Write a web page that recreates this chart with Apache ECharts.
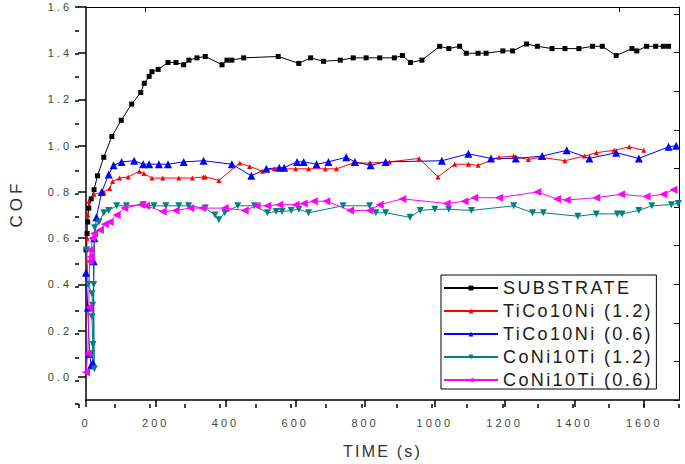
<!DOCTYPE html>
<html>
<head>
<meta charset="utf-8">
<script src="https://cdn.jsdelivr.net/npm/echarts@6/dist/echarts.min.js"></script>
<style>
  html, body { margin: 0; padding: 0; background: #fff; }
  #chart { width: 685px; height: 464px; }
  #chart text[style*="11px"] { letter-spacing: 3px; }
  #chart text[style*="18px"] { letter-spacing: 2.4px; }
  #chart text[style*="16px"] { letter-spacing: 2.2px; }
  #chart text[style*="17px"] { letter-spacing: 4px; }
</style>
</head>
<body>
<div id="chart"></div>
<script>
// ---- data (time in s, COF) ----
const seriesNames = ['SUBSTRATE', 'TiCo10Ni (1.2)', 'TiCo10Ni (0.6)', 'CoNi10Ti (1.2)', 'CoNi10Ti (0.6)'];

const substrate = [[0,0.55],[3,0.62],[5,0.67],[8,0.73],[15,0.77],[23,0.81],[33,0.87],[51,0.95],[74,1.04],[101,1.11],[131,1.18],[157,1.23],[167,1.27],[181,1.30],[189,1.32],[207,1.33],[235,1.36],[258,1.36],[280,1.35],[295,1.37],[318,1.38],[342,1.386],[390,1.35],[404,1.37],[418,1.37],[452,1.38],[551,1.386],[610,1.356],[644,1.38],[681,1.365],[729,1.37],[766,1.38],[803,1.38],[842,1.38],[884,1.38],[907,1.39],[930,1.36],[963,1.37],[1014,1.43],[1040,1.42],[1071,1.43],[1090,1.40],[1124,1.40],[1147,1.40],[1195,1.41],[1223,1.41],[1263,1.44],[1294,1.43],[1336,1.42],[1373,1.42],[1413,1.42],[1452,1.43],[1480,1.43],[1520,1.39],[1565,1.42],[1579,1.41],[1607,1.43],[1633,1.43],[1655,1.43],[1670,1.43]];

const tico12 = [[0,0.45],[3,0.6],[5,0.7],[8,0.76],[23,0.79],[51,0.80],[68,0.815],[76,0.845],[96,0.86],[121,0.865],[153,0.89],[166,0.88],[189,0.86],[220,0.86],[266,0.86],[305,0.86],[337,0.865],[342,0.865],[381,0.85],[441,0.925],[469,0.91],[506,0.89],[540,0.90],[601,0.90],[638,0.90],[686,0.90],[718,0.90],[766,0.925],[813,0.925],[870,0.93],[955,0.945],[1009,0.865],[1057,0.92],[1096,0.92],[1124,0.915],[1184,0.95],[1226,0.955],[1268,0.94],[1302,0.95],[1373,0.935],[1429,0.955],[1463,0.97],[1514,0.98],[1557,0.995],[1599,0.98]];

const tico06 = [[0,0.45],[5,0.3],[10,0.1],[15,0.05],[20,0.06],[22,0.5],[24,0.6],[30,0.69],[45,0.80],[65,0.875],[79,0.915],[102,0.93],[138,0.935],[164,0.92],[181,0.92],[209,0.92],[235,0.92],[280,0.93],[337,0.935],[418,0.92],[474,0.87],[517,0.90],[554,0.905],[568,0.905],[605,0.93],[624,0.93],[661,0.92],[695,0.93],[746,0.95],[771,0.93],[816,0.915],[859,0.93],[1020,0.935],[1096,0.965],[1161,0.945],[1232,0.945],[1308,0.955],[1378,0.98],[1443,0.945],[1520,0.97],[1585,0.945],[1670,0.995],[1692,1.0]];

const coni12 = [[2,0.55],[6,0.4],[17,0.36],[19,0.31],[17,0.26],[20,0.14],[17,0.10],[24,0.035],[22,0.4],[25,0.645],[37,0.67],[51,0.71],[65,0.72],[88,0.74],[116,0.74],[164,0.745],[195,0.74],[229,0.74],[266,0.74],[294,0.74],[342,0.73],[370,0.70],[381,0.68],[398,0.71],[435,0.74],[483,0.74],[520,0.71],[545,0.715],[562,0.715],[588,0.72],[610,0.725],[638,0.71],[737,0.74],[813,0.74],[831,0.71],[859,0.71],[929,0.69],[958,0.72],[1000,0.725],[1040,0.725],[1105,0.72],[1226,0.74],[1280,0.71],[1311,0.71],[1410,0.695],[1463,0.705],[1523,0.705],[1537,0.705],[1585,0.72],[1622,0.74],[1678,0.745],[1698,0.75]];

const coni06 = [[0,0.02],[5,0.1],[8,0.3],[10,0.5],[12,0.55],[14,0.52],[18,0.6],[23,0.62],[40,0.635],[54,0.66],[68,0.67],[88,0.70],[110,0.73],[158,0.745],[172,0.74],[220,0.715],[257,0.72],[299,0.73],[333,0.73],[398,0.73],[455,0.72],[489,0.74],[520,0.74],[554,0.745],[601,0.745],[624,0.75],[653,0.76],[689,0.76],[757,0.72],[813,0.72],[842,0.745],[907,0.77],[1034,0.75],[1085,0.76],[1113,0.775],[1184,0.775],[1294,0.80],[1350,0.77],[1378,0.765],[1463,0.775],[1534,0.79],[1607,0.78],[1655,0.79],[1684,0.81]];

const xTicks = [0, 200, 400, 600, 800, 1000, 1200, 1400, 1600];
const yTicks = [0.0, 0.2, 0.4, 0.6, 0.8, 1.0, 1.2, 1.4, 1.6];

const FONT = 'Liberation Sans, Arial, sans-serif';
const gridRect = { left: 79, right: 6, top: 7, bottom: 60 };

const chart = echarts.init(document.getElementById('chart'), null, { renderer: 'svg' });

function lineSeries(name, data, color, symbol, size, rotate) {
  return {
    name: name, type: 'line', data: data,
    xAxisIndex: 0, yAxisIndex: 0,
    symbol: symbol, symbolSize: size, symbolRotate: rotate || 0,
    showSymbol: true,
    lineStyle: { color: color, width: 1 },
    itemStyle: { color: color },
    emphasis: { disabled: true }
  };
}

chart.setOption({
  animation: false,
  backgroundColor: '#fff',
  grid: [
    Object.assign({}, gridRect),
    Object.assign({}, gridRect)
  ],
  legend: {
    orient: 'vertical',
    left: 441, top: 275,
    padding: [4, 37, 0, 2],
    itemWidth: 54, itemHeight: 6, itemGap: 5.0,
    borderColor: '#000', borderWidth: 1,
    backgroundColor: '#fff',
    textStyle: { fontFamily: FONT, fontSize: 18, color: '#1a1a1a' },
    data: seriesNames
  },
  xAxis: [
    {
      type: 'value', gridIndex: 0, min: 0, max: 1700, interval: 100,
      position: 'bottom',
      name: 'TIME (s)', nameLocation: 'middle', nameGap: 43,
      nameTextStyle: { fontFamily: FONT, fontSize: 16, color: '#333' },
      axisLine: { show: true, onZero: false, lineStyle: { color: '#000', width: 1.5 } },
      axisTick: { show: true, inside: false, length: 7, customValues: xTicks, lineStyle: { color: '#000', width: 1.5 } },
      axisLabel: { show: true, customValues: xTicks, margin: 17, fontFamily: FONT, fontSize: 11, color: '#444',
                   formatter: function (v) { return String(v); } },
      splitLine: { show: false }
    },
    {
      type: 'value', gridIndex: 0, min: 0, max: 1, position: 'top',
      axisLine: { show: true, onZero: false, lineStyle: { color: '#000', width: 1 } },
      axisTick: { show: true, inside: true, length: 5, customValues: [0.1, 0.9], lineStyle: { color: '#000' } },
      axisLabel: { show: false },
      splitLine: { show: false }
    },
    {
      type: 'value', gridIndex: 1, min: 0, max: 1700, interval: 100, position: 'bottom',
      axisLine: { show: false, onZero: false },
      axisTick: { show: true, inside: false, length: 4, lineStyle: { color: '#000', width: 1.5 } },
      axisLabel: { show: false },
      splitLine: { show: false }
    }
  ],
  yAxis: [
    {
      type: 'value', gridIndex: 0, min: -0.1, max: 1.6, interval: 0.1,
      position: 'left',
      name: 'COF', nameLocation: 'middle', nameGap: 61, nameRotate: 90,
      nameTextStyle: { fontFamily: FONT, fontSize: 17, color: '#333' },
      axisLine: { show: true, onZero: false, lineStyle: { color: '#000', width: 1.5 } },
      axisTick: { show: true, inside: false, length: 8, customValues: yTicks, lineStyle: { color: '#000', width: 1.5 } },
      axisLabel: { show: true, customValues: yTicks, margin: 14, fontFamily: FONT, fontSize: 11, color: '#444',
                   formatter: function (v) { return v.toFixed(1); } },
      splitLine: { show: false }
    },
    {
      type: 'value', gridIndex: 0, min: 0, max: 10.18, interval: 1, position: 'right',
      axisLine: { show: true, onZero: false, lineStyle: { color: '#000', width: 1 } },
      axisTick: { show: true, inside: true, length: 5, lineStyle: { color: '#000' } },
      axisLabel: { show: false },
      splitLine: { show: false }
    },
    {
      type: 'value', gridIndex: 1, min: -0.1, max: 1.6, interval: 0.1, position: 'left',
      axisLine: { show: false, onZero: false },
      axisTick: { show: true, inside: false, length: 4, lineStyle: { color: '#000', width: 1.5 } },
      axisLabel: { show: false },
      splitLine: { show: false }
    }
  ],
  series: [
    lineSeries(seriesNames[0], substrate, '#000000', 'rect', 5),
    lineSeries(seriesNames[1], tico12, '#ff0000', 'triangle', 5),
    lineSeries(seriesNames[2], tico06, '#0000ff', 'triangle', 8),
    lineSeries(seriesNames[3], coni12, '#008080', 'triangle', 7, 180),
    lineSeries(seriesNames[4], coni06, '#ff00ff', 'triangle', 8, 90)
  ]
});
</script>
</body>
</html>
